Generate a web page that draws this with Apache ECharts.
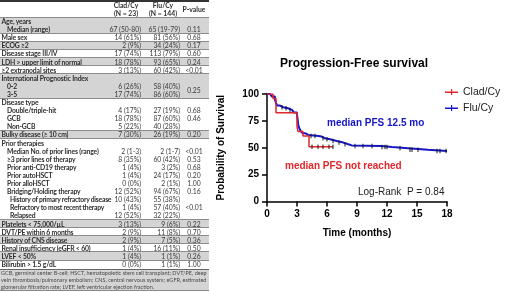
<!DOCTYPE html>
<html>
<head>
<meta charset="utf-8">
<script src="https://cdn.jsdelivr.net/npm/echarts@6/dist/echarts.min.js"></script>
<style>
  body { margin: 0; background: #fff; }
  #chart { position: absolute; left: 0; top: 0; width: 520px; height: 292px; }
  #tbl { position: absolute; left: 0; top: 0; width: 209px; height: 292px;
         font-family: Lato, "Open Sans", sans-serif; color: #2e2e2e; }
</style>
</head>
<body>
<div id="chart"></div>
<div id="tbl"></div>
<script>
// ---- table data ----
const rowLabels = [
  "Age, years", "Median (range)", "Male sex", "ECOG \u22652", "Disease stage III/IV",
  "LDH > upper limit of normal", "\u22652 extranodal sites", "International Prognostic Index",
  "0-2", "3-5", "Disease type", "Double/triple-hit", "GCB", "Non-GCB",
  "Bulky disease (\u2265 10 cm)", "Prior therapies", "Median No. of prior lines (range)",
  "\u22653 prior lines of therapy", "Prior anti-CD19 therapy", "Prior autoHSCT", "Prior alloHSCT",
  "Bridging/Holding therapy", "History of primary refractory disease",
  "Refractory to most recent therapy", "Relapsed", "Platelets < 75,000/\u00b5L",
  "DVT/PE within 6 months", "History of CNS disease", "Renal insufficiency (eGFR < 60)",
  "LVEF < 50%", "Bilirubin > 1.5 g/dL"
];
const rowIndent = [0,1,0,0,0,0,0,0,1,1,0,1,1,1,0,0,1,1,1,1,1,1,2,2,2,0,0,0,0,0,0];
const rowShaded = [1,1,0,1,0,1,0,1,1,1,0,0,0,0,1,0,0,0,0,0,0,0,0,0,0,1,0,1,0,1,0];
const cladValues = [
  "", "67 (50-80)", "14 (61%)", "2 (9%)", "17 (74%)", "18 (78%)", "3 (13%)", "",
  "6 (26%)", "17 (74%)", "", "4 (17%)", "18 (78%)", "5 (22%)", "7 (30%)", "",
  "2 (1-3)", "8 (35%)", "1 (4%)", "1 (4%)", "0 (0%)", "12 (52%)", "10 (43%)",
  "1 (4%)", "12 (52%)", "3 (13%)", "2 (9%)", "2 (9%)", "1 (4%)", "1 (4%)", "0 (0%)"
];
const fluValues = [
  "", "65 (19-79)", "81 (56%)", "34 (24%)", "113 (79%)", "93 (65%)", "60 (42%)", "",
  "58 (40%)", "86 (60%)", "", "27 (19%)", "87 (60%)", "40 (28%)", "26 (19%)", "",
  "2 (1-7)", "60 (42%)", "3 (2%)", "24 (17%)", "2 (1%)", "94 (67%)", "55 (38%)",
  "57 (40%)", "32 (22%)", "9 (6%)", "11 (8%)", "7 (5%)", "16 (11%)", "1 (1%)", "1 (1%)"
];
const pValues = [
  "", "0.11", "0.68", "0.17", "0.60", "0.24", "<0.01", "",
  "0.25", "", "", "0.68", "0.46", "", "0.20", "",
  "<0.01", "0.53", "0.68", "0.20", "1.00", "0.16", "",
  "<0.01", "", "0.22", "0.70", "0.36", "0.50", "0.26", "1.00"
];
const footnoteLines = [
  "GCB, germinal center B-cell; HSCT, hematopoietic stem cell transplant; DVT/PE, deep",
  "vein thrombosis/pulmonary embolism; CNS, central nervous system; eGFR, estimated",
  "glomerular filtration rate; LVEF, left ventricular ejection fraction."
];

// ---- curve data (months, % progression-free) ----
const cladTime = [0, 0.6, 0.9, 3.0, 3.1, 3.6, 4.2, 6.6];
const cladSurv = [100, 95.7, 82.6, 69.6, 65.2, 60.9, 51.0, 51.0];
const cladCensor = [4.5, 5.1, 5.6, 6.2, 6.6];

const fluTime = [0, 0.3, 0.5, 0.8, 1.0, 1.3, 1.6, 2.1, 2.5, 2.7, 3.0, 3.07, 3.13, 3.23, 3.37,
  3.57, 3.8, 4.13, 5.13, 5.47, 5.8, 6.3, 6.97, 7.63, 8.13, 8.47, 11.4, 12.5, 14.1, 16.1, 18.0];
const fluSurv = [100, 99.3, 97.6, 94.5, 89.2, 87.7, 86.7, 85.2, 84.2, 82.7, 80.5, 75.9, 71.2,
  68.1, 65.6, 63.5, 61.9, 61.0, 60.4, 58.8, 57.9, 56.3, 54.8, 53.2, 52.2, 51.6, 50.7, 49.6,
  48.2, 47.0, 47.0];
const fluCensor = [1.5, 1.9, 2.3, 4.4, 4.8, 5.6, 6.0, 6.6, 7.2, 7.8, 8.8, 9.6, 10.5, 11.5,
  11.8, 12.0, 13.3, 14.3, 14.5, 15.1, 17.0, 17.3, 17.9];

const RED = "#e2262b";
const BLUE = "#1616c6";

// ---- build table ----
const tbl = document.getElementById("tbl");
const ROW0 = 17, ROWH = 8.1, FS = 6.8;
const CLAD_RIGHT = 141, FLU_RIGHT = 180, P_CENTER = 194;

function addDiv(parent, css, text) {
  const d = document.createElement("div");
  d.style.cssText = css;
  if (text !== undefined) d.textContent = text;
  parent.appendChild(d);
  return d;
}

// header
addDiv(tbl, "position:absolute;left:0;top:0;width:209px;height:1.5px;background:#333;");
addDiv(tbl, `position:absolute;left:0;top:${ROW0 - 0.5}px;width:209px;height:1px;background:#444;`);
const hdr = `position:absolute;font-weight:bold;font-size:${FS}px;white-space:nowrap;text-align:center;`;
addDiv(tbl, hdr + `left:${CLAD_RIGHT - 33}px;width:36px;top:0.5px;`, "Clad/Cy");
addDiv(tbl, hdr + `left:${CLAD_RIGHT - 33}px;width:36px;top:8.5px;`, "(N = 23)");
addDiv(tbl, hdr + `left:${FLU_RIGHT - 35}px;width:36px;top:0.5px;`, "Flu/Cy");
addDiv(tbl, hdr + `left:${FLU_RIGHT - 35}px;width:36px;top:8.5px;`, "(N = 144)");
addDiv(tbl, hdr + `left:${P_CENTER - 15}px;width:30px;top:4.5px;`, "P-value");

const cellCss = `position:absolute;white-space:nowrap;font-size:${FS}px;height:${ROWH}px;line-height:${ROWH}px;`;
rowLabels.forEach((lab, i) => {
  const top = ROW0 + i * ROWH;
  if (rowShaded[i])
    addDiv(tbl, `position:absolute;left:0;width:209px;top:${top}px;height:${ROWH}px;background:#d4d4d4;`);
  // borders around shaded groups
  if (rowShaded[i] && (i === 0 || !rowShaded[i - 1]))
    addDiv(tbl, `position:absolute;left:0;width:209px;top:${top - 0.5}px;height:1px;background:#8c8c8c;`);
  if (rowShaded[i] && (i === rowLabels.length - 1 || !rowShaded[i + 1]))
    addDiv(tbl, `position:absolute;left:0;width:209px;top:${top + ROWH - 0.5}px;height:1px;background:#8c8c8c;`);
});
rowLabels.forEach((lab, i) => {
  const top = ROW0 + i * ROWH;
  const ls = rowIndent[i] === 2 ? -0.25 : -0.15;
  addDiv(tbl, cellCss + `top:${top}px;font-weight:bold;letter-spacing:${ls}px;left:${[1.5, 7, 10][rowIndent[i]]}px;`, lab);
  addDiv(tbl, cellCss + `top:${top}px;right:${209 - CLAD_RIGHT}px;color:#3a3a3a;`, cladValues[i]);
  addDiv(tbl, cellCss + `top:${top}px;right:${209 - FLU_RIGHT}px;color:#3a3a3a;`, fluValues[i]);
  const pTop = i === 8 ? top + ROWH / 2 : top;
  addDiv(tbl, cellCss + `top:${pTop}px;left:${P_CENTER - 15}px;width:30px;text-align:center;color:#3a3a3a;`, pValues[i]);
});

const footTop = ROW0 + rowLabels.length * ROWH + 0.5;
const foot = addDiv(tbl, `position:absolute;left:0;width:209px;top:${footTop}px;height:${292 - footTop - 1}px;` +
  `background:#d4d4d4;border-top:1px solid #666;border-bottom:1px solid #888;box-sizing:border-box;`);
footnoteLines.forEach((t, k) => {
  addDiv(foot, `position:absolute;left:1px;top:${0.5 + k * 7}px;font-size:5.5px;line-height:7px;white-space:nowrap;color:#4a4a4a;`, t);
});

// ---- chart ----
function survAt(times, surv, t) {
  let s = surv[0];
  for (let i = 0; i < times.length; i++) if (times[i] <= t) s = surv[i];
  return s;
}
const pairs = (ts, ss) => ts.map((t, i) => [t, ss[i]]);

const chart = echarts.init(document.getElementById("chart"));
const FONT = "'Liberation Sans', Arial, sans-serif";

const option = {
  animation: false,
  title: {
    text: "Progression-Free survival",
    left: 280, top: 58, padding: 0,
    textStyle: { fontFamily: FONT, fontWeight: "bold", fontSize: 12, color: "#000" }
  },
  legend: {
    data: ["Clad/Cy", "Flu/Cy"],
    orient: "vertical",
    left: 445, top: 86.5, padding: 0,
    itemWidth: 13, itemHeight: 7, itemGap: 5,
    icon: "path://M0,3h13v1.4h-13z M6,0.5h1.2v6h-1.2z",
    textStyle: { fontFamily: FONT, fontSize: 10.5, color: "#222" }
  },
  grid: { left: 267, top: 94, width: 180, height: 107.5 },
  xAxis: {
    type: "value", min: 0, max: 18, interval: 3,
    name: "Time (months)", nameLocation: "middle", nameGap: 27,
    nameTextStyle: { fontFamily: FONT, fontWeight: "bold", fontSize: 10, color: "#000" },
    axisLine: { lineStyle: { color: "#000", width: 1.5 } },
    axisTick: { length: 5, lineStyle: { color: "#000", width: 1.5 } },
    axisLabel: { fontFamily: FONT, fontWeight: "bold", fontSize: 10, color: "#000", margin: 8 },
    splitLine: { show: false }
  },
  yAxis: {
    type: "value", min: 0, max: 100, interval: 25,
    name: "Probability of Survival", nameLocation: "middle", nameGap: 41,
    nameTextStyle: { fontFamily: FONT, fontWeight: "bold", fontSize: 10, color: "#000" },
    axisLine: { show: true, lineStyle: { color: "#000", width: 1.5 } },
    axisTick: { show: true, length: 5, lineStyle: { color: "#000", width: 1.5 } },
    axisLabel: { fontFamily: FONT, fontWeight: "bold", fontSize: 10, color: "#000", margin: 8 },
    splitLine: { show: false }
  },
  series: [
    {
      name: "Flu/Cy", type: "line", step: "end", showSymbol: false,
      data: pairs(fluTime, fluSurv), color: BLUE,
      lineStyle: { color: BLUE, width: 2 }, z: 2
    },
    {
      name: "Clad/Cy", type: "line", step: "end", showSymbol: false,
      data: pairs(cladTime, cladSurv), color: RED,
      lineStyle: { color: RED, width: 1.5 }, z: 3
    },
    {
      name: "fluCensor", type: "scatter", symbol: "rect", symbolSize: [1.2, 4.5],
      data: fluCensor.map(t => [t, survAt(fluTime, fluSurv, t)]),
      itemStyle: { color: "#111" }, z: 4
    },
    {
      name: "cladCensor", type: "scatter", symbol: "rect", symbolSize: [1.2, 4.5],
      data: cladCensor.map(t => [t, survAt(cladTime, cladSurv, t)]),
      itemStyle: { color: "#111" }, z: 4
    }
  ],
  graphic: [
    { type: "text", left: 327, top: 118,
      style: { text: "median PFS 12.5 mo", fill: BLUE, font: "bold 10px " + FONT } },
    { type: "text", left: 285, top: 161,
      style: { text: "median PFS not reached", fill: RED, font: "bold 10px " + FONT } },
    { type: "text", left: 358, top: 187,
      style: { text: "Log-Rank  P = 0.84", fill: "#222", font: "10px " + FONT } }
  ]
};
chart.setOption(option);
</script>
</body>
</html>
